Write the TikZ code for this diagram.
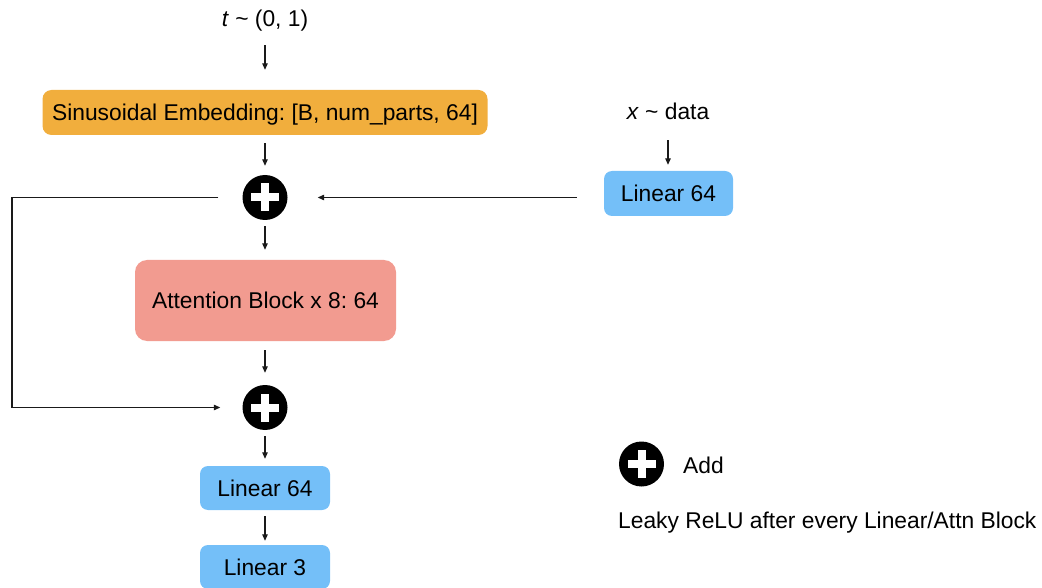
\documentclass[tikz,border=0pt]{standalone}
\usepackage{fontspec}
\setmainfont{Liberation Sans}
\usetikzlibrary{arrows.meta}
\definecolor{embor}{HTML}{F1AE3D}
\definecolor{attred}{HTML}{F29B90}
\definecolor{linblue}{HTML}{74BFF8}
\definecolor{lncol}{HTML}{1A1A1A}
\tikzset{
  txt/.style={font=\fontsize{22.8}{27}\selectfont\frenchspacing, inner sep=0pt, text height=20pt, text depth=4pt},
  boxbase/.style={txt, rounded corners=9pt, draw=none, align=center},
  embbox/.style={boxbase, fill=embor, minimum width=445pt, minimum height=45pt},
  attbox/.style={boxbase, fill=attred, minimum width=261pt, minimum height=81pt, rounded corners=12pt},
  linbox/.style={boxbase, fill=linblue, minimum width=130pt, minimum height=44pt, rounded corners=8pt},
  addcirc/.style={circle, fill=black, minimum size=45pt, inner sep=0pt,
    path picture={
      \fill[white] ([shift={(-14pt,-4pt)}]path picture bounding box.center) rectangle ([shift={(14pt,4pt)}]path picture bounding box.center);
      \fill[white] ([shift={(-4pt,-14pt)}]path picture bounding box.center) rectangle ([shift={(4pt,14pt)}]path picture bounding box.center);
    }},
  arr/.style={draw=lncol, line width=1.2pt, -{Triangle[length=6.5pt,width=5.5pt]}},
  plain/.style={draw=lncol, line width=1.2pt}
}
\begin{document}
\begin{tikzpicture}[x=1pt,y=-1pt]
\useasboundingbox (0,0) rectangle (1042,588);

\node[txt] (t) at (265,19) {\textit{t} \textasciitilde{} (0, 1)};
\node[embbox] (emb) at (265,112.5) {Sinusoidal Embedding: [B, num\_parts, 64]};
\node[addcirc] (p1) at (265,197.5) {};
\node[attbox] (att) at (265.5,300.5) {Attention Block x 8: 64};
\node[addcirc] (p2) at (265,407.5) {};
\node[linbox] (l1) at (265,488) {Linear 64};
\node[linbox] (l2) at (265,567) {Linear 3};

\node[txt] (x) at (668,112) {\textit{x} \textasciitilde{} data};
\node[linbox, minimum width=129pt, minimum height=45pt] (lx) at (668.5,193.5) {Linear 64};

\node[addcirc] (pl) at (641.5,464) {};
\node[txt, anchor=west] (addl) at (683,465) {Add};
\node[txt, anchor=west] (leaky) at (618,520) {Leaky ReLU after every Linear/Attn Block};

\coordinate (lft) at (12,0);

\draw[arr, shorten <=14pt, shorten >=20pt] (t.south) -- (emb.north);
\draw[arr, shorten <=8pt, shorten >=9pt] (emb.south) -- (p1.north);
\draw[arr, shorten <=6pt, shorten >=10pt] (p1.south) -- (att.north -| p1.south);
\draw[arr, shorten <=9pt, shorten >=12pt] (att.south -| p2.north) -- (p2.north);
\draw[arr, shorten <=6pt, shorten >=7pt] (p2.south) -- (l1.north);
\draw[arr, shorten <=6pt, shorten >=4pt] (l1.south) -- (l2.north);

\draw[arr, shorten <=16pt, shorten >=6pt] (x.south) -- (lx.north -| x.south);
\draw[arr, shorten <=27pt, shorten >=30pt] (lx.west |- p1.east) -- (p1.east);

\draw[arr, shorten <=24pt, shorten >=22pt] (p1.west) -- (p1.west -| lft) -- (p2.west -| lft) -- (p2.west);
\end{tikzpicture}
\end{document}
